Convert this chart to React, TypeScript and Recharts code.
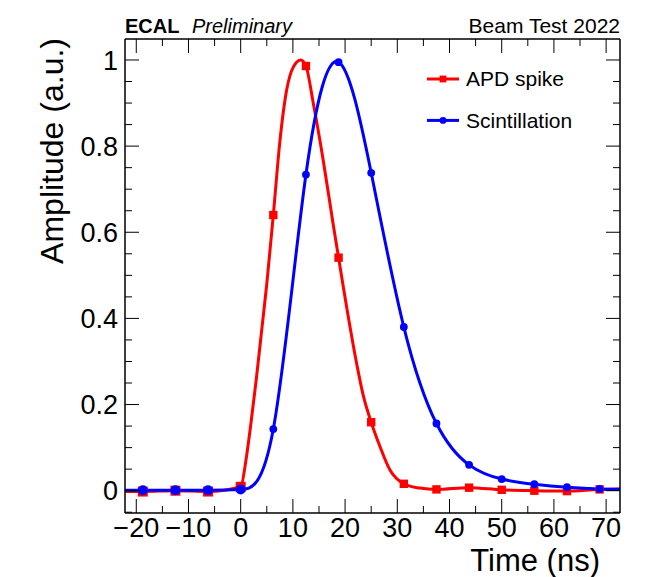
import React from 'react';
import { ComposedChart, Line, XAxis, YAxis, Legend } from 'recharts';

// sample times of the measured pulses (ns)
const sampleTimes = [-18.75, -12.5, -6.25, 0, 6.25, 12.5, 18.75, 25, 31.25, 37.5, 43.75, 50, 56.25, 62.5, 68.75];
const apdValues = [-0.002, 0.0, -0.002, 0.009, 0.64, 0.986, 0.541, 0.159, 0.016, 0.003, 0.007, 0.002, 0.0, -0.001, 0.003];
const scintValues = [0.001, 0.001, 0.001, 0.003, 0.143, 0.734, 0.995, 0.738, 0.38, 0.156, 0.06, 0.027, 0.015, 0.008, 0.004];

// smooth curve drawn through the APD samples
const apdCurveTimes = [-25, -18.75, -12.5, -6.25, 0, 1, 2, 3, 4, 5, 6.25, 7.5, 8.8, 10.1, 11.5, 12.5, 13.9, 15.8, 17.7, 18.75, 19.7, 22.2, 23.5, 25, 26.7, 28.6, 31.25, 34.3, 37.5, 43.75, 50, 56.25, 62.5, 68.75, 75];
const apdCurveValues = [-0.002, -0.002, 0.0, -0.002, 0.009, 0.07, 0.16, 0.26, 0.37, 0.48, 0.64, 0.81, 0.93, 0.984, 1.0, 0.986, 0.9, 0.768, 0.62, 0.541, 0.47, 0.296, 0.22, 0.159, 0.102, 0.048, 0.016, 0.006, 0.003, 0.007, 0.002, 0.0, -0.001, 0.003, 0.004];

// scintillation curve: samples plus the ends at the frame
const scintCurveTimes = [-25, ...sampleTimes, 75];
const scintCurveValues = [0.001, ...scintValues, 0.003];

const timeTicks = [-20, -15, -10, -5, 0, 5, 10, 15, 20, 25, 30, 35, 40, 45, 50, 55, 60, 65, 70];
const ampTicks = [-0.05, 0, 0.05, 0.1, 0.15, 0.2, 0.25, 0.3, 0.35, 0.4, 0.45, 0.5, 0.55, 0.6, 0.65, 0.7, 0.75, 0.8, 0.85, 0.9, 0.95, 1.0];
const seriesNames = ['APD spike', 'Scintillation'];

const FONT = "'Liberation Sans', Arial, Helvetica, sans-serif";
const RED = '#ff0000';
const BLUE = '#0000ff';

const zip = (ts: number[], vs: number[]) => ts.map((t, i) => ({ t, v: vs[i] }));
const apdPoints = zip(sampleTimes, apdValues);
const scintPoints = zip(sampleTimes, scintValues);
const apdCurve = zip(apdCurveTimes, apdCurveValues);
const scintCurve = zip(scintCurveTimes, scintCurveValues);

const isMajorX = (v: number) => v % 10 === 0;
const isMajorY = (v: number) => Math.abs(v * 5 - Math.round(v * 5)) < 1e-6;
const fmtX = (v: number) => (v < 0 ? '\u2212' + Math.abs(v) : String(v));
const fmtY = (v: number) => (Math.abs(v) < 1e-9 ? '0' : String(+v.toFixed(1)));

const BottomTick = (p: any) => {
  const v = p.payload.value;
  const major = isMajorX(v);
  return (
    <g>
      <line x1={p.x} x2={p.x} y1={p.y} y2={p.y - (major ? 14 : 7)} stroke="#000" />
      {major && (
        <text x={p.x} y={p.y + 23.5} textAnchor="middle" fontSize={27} fontFamily={FONT} fill="#000">
          {fmtX(v)}
        </text>
      )}
    </g>
  );
};

const TopTick = (p: any) => {
  const major = isMajorX(p.payload.value);
  return <line x1={p.x} x2={p.x} y1={p.y} y2={p.y + (major ? 14 : 7)} stroke="#000" />;
};

const LeftTick = (p: any) => {
  const v = p.payload.value;
  const major = isMajorY(v);
  return (
    <g>
      <line x1={p.x} x2={p.x + (major ? 14 : 7)} y1={p.y} y2={p.y} stroke="#000" />
      {major && (
        <text x={p.x - 7} y={p.y} dy="0.36em" textAnchor="end" fontSize={27} fontFamily={FONT} fill="#000">
          {fmtY(v)}
        </text>
      )}
    </g>
  );
};

const RightTick = (p: any) => {
  const major = isMajorY(p.payload.value);
  return <line x1={p.x} x2={p.x - (major ? 14 : 7)} y1={p.y} y2={p.y} stroke="#000" />;
};

const squareDot = (p: any) => {
  const s = p.payload.t <= 0 ? 5 : 4.2;
  return <rect key={`sq${p.index}`} x={p.cx - s} y={p.cy - s} width={2 * s} height={2 * s} fill={RED} />;
};

const circleDot = (p: any) => {
  const r = p.payload.t <= 0 ? 5 : 3.9;
  return <circle key={`ci${p.index}`} cx={p.cx} cy={p.cy} r={r} fill={BLUE} />;
};

const LegendBox = () => (
  <svg width={200} height={90}>
    <line x1={7} x2={39} y1={20} y2={20} stroke={RED} strokeWidth={3} />
    <rect x={19.6} y={16.6} width={6.8} height={6.8} fill={RED} />
    <text x={46} y={27.2} fontSize={21} fontFamily={FONT} fill="#000">{seriesNames[0]}</text>
    <line x1={7} x2={39} y1={61.4} y2={61.4} stroke={BLUE} strokeWidth={3} />
    <circle cx={23} cy={61.4} r={3.4} fill={BLUE} />
    <text x={46} y={68.7} fontSize={21} fontFamily={FONT} fill="#000">{seriesNames[1]}</text>
  </svg>
);

const xDomain: [number, number] = [-22.16, 72.66];
const yDomain: [number, number] = [-0.0518, 1.0487];
const frame = { stroke: '#000', strokeWidth: 1.5 };

export default function App() {
  return (
    <div style={{ position: 'absolute', left: 0, top: 0, width: 661, height: 577, background: '#fff' }}>
      <ComposedChart width={661} height={577} margin={{ top: 38, right: 40, bottom: 63, left: 124 }}>
        <XAxis xAxisId="b" type="number" dataKey="t" domain={xDomain} allowDataOverflow ticks={timeTicks}
          interval={0} tickSize={0} tickMargin={0} height={1} axisLine={frame} tickLine={false} tick={BottomTick} />
        <XAxis xAxisId="t" orientation="top" type="number" dataKey="t" domain={xDomain} allowDataOverflow ticks={timeTicks}
          interval={0} tickSize={0} tickMargin={0} height={1} axisLine={frame} tickLine={false} tick={TopTick} />
        <YAxis yAxisId="l" type="number" domain={yDomain} allowDataOverflow ticks={ampTicks}
          interval={0} tickSize={0} tickMargin={0} width={1} axisLine={frame} tickLine={false} tick={LeftTick} />
        <YAxis yAxisId="r" orientation="right" type="number" domain={yDomain} allowDataOverflow ticks={ampTicks}
          interval={0} tickSize={0} tickMargin={0} width={1} axisLine={frame} tickLine={false} tick={RightTick} />
        <Line xAxisId="b" yAxisId="l" data={apdCurve} dataKey="v" type="monotone" stroke={RED} strokeWidth={3}
          dot={false} activeDot={false} isAnimationActive={false} legendType="none" />
        <Line xAxisId="b" yAxisId="l" data={apdPoints} dataKey="v" stroke="none" dot={squareDot}
          activeDot={false} isAnimationActive={false} legendType="none" />
        <Line xAxisId="b" yAxisId="l" data={scintCurve} dataKey="v" type="natural" stroke={BLUE} strokeWidth={3}
          dot={false} activeDot={false} isAnimationActive={false} legendType="none" />
        <Line xAxisId="b" yAxisId="l" data={scintPoints} dataKey="v" stroke="none" dot={circleDot}
          activeDot={false} isAnimationActive={false} legendType="none" />
        <Legend layout="vertical" align="center" verticalAlign="middle" content={() => <LegendBox />}
          wrapperStyle={{ left: 420, top: 59.3, width: 200, height: 90 }} />
      </ComposedChart>
      <svg width={661} height={577} style={{ position: 'absolute', left: 0, top: 0, pointerEvents: 'none' }}>
        <text x={125} y={33} fontSize={20} fontWeight="bold" fontFamily={FONT}>ECAL</text>
        <text x={192} y={33} fontSize={20} fontStyle="italic" fontFamily={FONT}>Preliminary</text>
        <text x={620} y={33} fontSize={21} textAnchor="end" fontFamily={FONT}>Beam Test 2022</text>
        <text x={600} y={571} fontSize={31} textAnchor="end" fontFamily={FONT}>Time (ns)</text>
        <text transform="translate(63,38) rotate(-90)" fontSize={32} textAnchor="end" fontFamily={FONT}>Amplitude (a.u.)</text>
      </svg>
    </div>
  );
}
